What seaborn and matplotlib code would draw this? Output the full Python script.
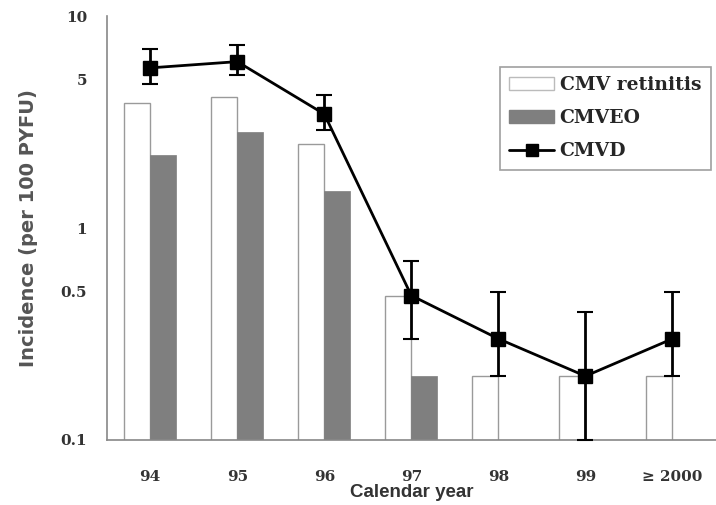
import numpy as np
import pandas as pd
import matplotlib
matplotlib.use("Agg")
import matplotlib.pyplot as plt
from matplotlib.lines import Line2D
from matplotlib.patches import Patch
import seaborn as sns

years = ["94", "95", "96", "97", "98", "99", "\u2265 2000"]
retinitis = [3.9, 4.15, 2.5, 0.48, 0.2, 0.2, 0.2]
cmveo = [2.2, 2.85, 1.5, 0.2, np.nan, np.nan, np.nan]
cmvd = [5.7, 6.1, 3.45, 0.48, 0.3, 0.2, 0.3]
cmvd_hi = [7.0, 7.3, 4.25, 0.7, 0.5, 0.4, 0.5]
cmvd_lo = [4.8, 5.3, 2.9, 0.3, 0.2, 0.1, 0.2]

sns.set_style("white")
serif = "DejaVu Serif"

df = pd.DataFrame({
    "year": years * 2,
    "value": retinitis + cmveo,
    "kind": ["CMV retinitis"] * len(years) + ["CMVEO"] * len(years),
})

fig = plt.figure(figsize=(7.16, 5.05), dpi=100)
ax = fig.add_axes([0.149, 0.129, 0.851, 0.839])

sns.barplot(data=df, x="year", y="value", hue="kind", order=years,
            palette=["white", "#7f7f7f"], width=0.6, ax=ax, legend=False,
            saturation=1)
for bar in ax.containers[0]:
    bar.set_edgecolor("#9a9a9a")
    bar.set_linewidth(1.0)
for bar in ax.containers[1]:
    bar.set_edgecolor("#7f7f7f")
    bar.set_linewidth(0.5)

# CMVD line with error bars on the same category positions
pos = np.arange(len(years))
yerr = [np.array(cmvd) - np.array(cmvd_lo), np.array(cmvd_hi) - np.array(cmvd)]
ax.errorbar(pos, cmvd, yerr=yerr, color="black", lw=2, marker="s",
            markersize=10, capsize=5.5, elinewidth=2, capthick=1.5, zorder=5,
            clip_on=False)

ax.set_yscale("log")
ax.set_ylim(0.1, 10)
ax.set_xlim(-0.5, 6.5)
ax.set_yticks([0.1, 0.5, 1, 5, 10])
ax.set_yticklabels(["0.1", "0.5", "1", "5", "10"])
ax.minorticks_off()
ax.tick_params(axis="y", direction="out", length=5, color="#888888",
               labelsize=11, pad=9)
ax.tick_params(axis="x", direction="out", length=0, labelsize=11, pad=22)
for lab in ax.get_xticklabels() + ax.get_yticklabels():
    lab.set_fontfamily(serif)
    lab.set_fontweight("bold")
    lab.set_color("#333333")

sns.despine(ax=ax)
for s in ["left", "bottom"]:
    ax.spines[s].set_color("#888888")
    ax.spines[s].set_linewidth(1.2)

ax.set_xlabel("Calendar year", fontfamily="Liberation Sans", fontweight="bold",
              fontsize=13.5, color="#333333", labelpad=0)
ax.set_ylabel("Incidence (per 100 PYFU)", fontfamily="DejaVu Sans",
              fontweight="bold", fontsize=14, color="#555555", labelpad=16)

handles = [
    Patch(facecolor="white", edgecolor="#bbbbbb", label="CMV retinitis"),
    Patch(facecolor="#7f7f7f", edgecolor="#7f7f7f", label="CMVEO"),
    Line2D([0], [0], color="black", lw=2, marker="s", markersize=9, label="CMVD"),
]
leg = ax.legend(handles=handles, loc="upper left", bbox_to_anchor=(0.645, 0.88),
                frameon=True, fancybox=False, borderpad=0.5, labelspacing=0.8,
                handlelength=2.4, handletextpad=0.3, borderaxespad=0,
                prop={"family": serif, "weight": "bold", "size": 13.5})
leg.get_frame().set_edgecolor("#888888")
leg.get_frame().set_linewidth(1.2)

fig.savefig("out.png", dpi=100)
